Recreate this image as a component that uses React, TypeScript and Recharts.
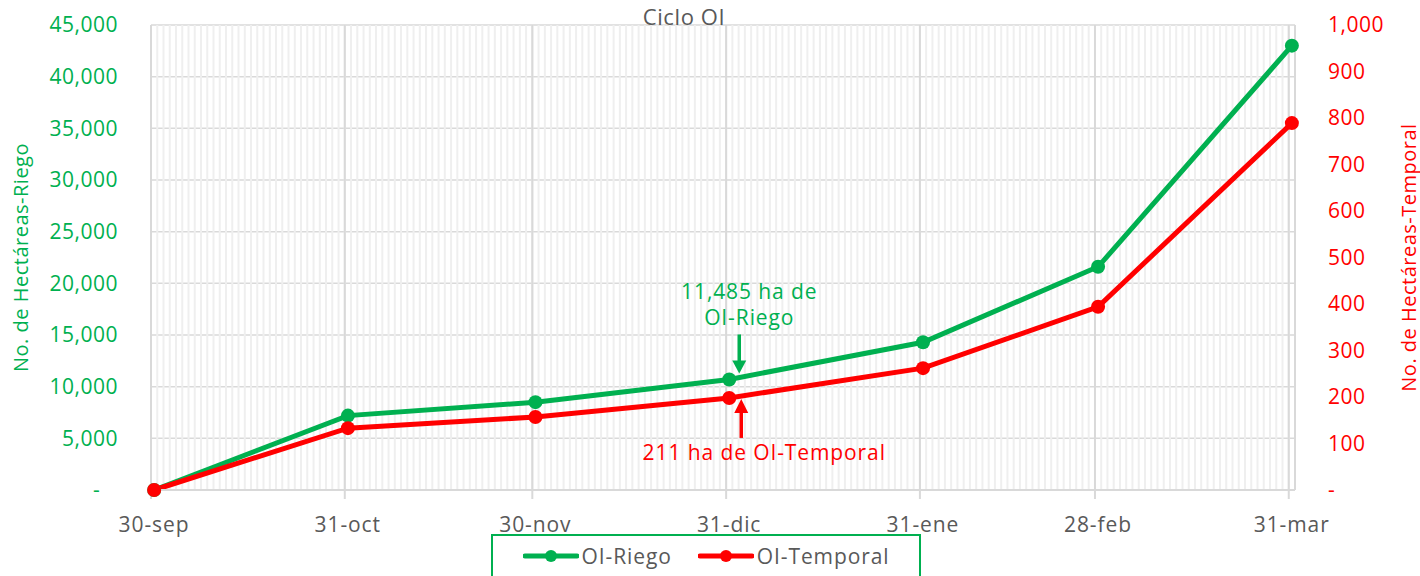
import { CartesianGrid, Legend, Line, LineChart, ReferenceDot, ReferenceLine, XAxis, YAxis } from "recharts";

// day index counted from 30-sep
const dayIndex = [0, 31, 61, 92, 123, 151, 182];
const dateLabels = ["30-sep", "31-oct", "30-nov", "31-dic", "31-ene", "28-feb", "31-mar"];
const riego = [0, 7200, 8500, 10700, 14300, 21600, 43000];
const temporal = [0, 133, 157, 198, 262, 394, 789];
const leftTicks = [0, 5000, 10000, 15000, 20000, 25000, 30000, 35000, 40000, 45000];
const rightTicks = [0, 100, 200, 300, 400, 500, 600, 700, 800, 900, 1000];
const riegoNote = ["11,485 ha de", "OI-Riego"];
const temporalNote = "211 ha de OI-Temporal";
const noteIndex = 3;

const GREEN = "#00b050";
const RED = "#ff0000";
const GRAY = "#595959";
const FONT = "'Open Sans', sans-serif";

const data = dayIndex.map((d, i) => ({ day: d, riego: riego[i], temporal: temporal[i] }));

// gridlines sit on day boundaries, points in the middle of the day
const monthTicks = dayIndex.map((d) => d - 0.5);
const dayLines = Array.from({ length: dayIndex[dayIndex.length - 1] + 2 }, (_, i) => i - 0.5);
const lastEdge = dayIndex[dayIndex.length - 1] + 0.5;

const fmtLeft = (v: number) => (v === 0 ? "-\u00a0\u00a0\u00a0" : v.toLocaleString("en-US"));
const fmtRight = (v: number) => (v === 0 ? "-" : v.toLocaleString("en-US"));
const fmtDate = (v: number) => dateLabels[monthTicks.indexOf(v)] ?? "";

const noteText = { fontSize: 21, fontFamily: FONT, letterSpacing: 0.9 };

const ArrowDownNote = (props: any) => {
    const { cx, cy } = props;
    const ax = cx + 10;
    return (
        <g>
            <text x={cx + 20} y={cy - 88} fill={GREEN} {...noteText} textAnchor="middle" dominantBaseline="central">{riegoNote[0]}</text>
            <text x={cx + 20} y={cy - 62} fill={GREEN} {...noteText} textAnchor="middle" dominantBaseline="central">{riegoNote[1]}</text>
            <line x1={ax} y1={cy - 45} x2={ax} y2={cy - 16} stroke={GREEN} strokeWidth={3.5} />
            <path d={`M${ax - 7},${cy - 19} L${ax + 7},${cy - 19} L${ax},${cy - 6} Z`} fill={GREEN} />
        </g>
    );
};

const ArrowUpNote = (props: any) => {
    const { cx, cy } = props;
    const ax = cx + 12;
    return (
        <g>
            <line x1={ax} y1={cy + 40} x2={ax} y2={cy + 12} stroke={RED} strokeWidth={3.5} />
            <path d={`M${ax - 7},${cy + 15} L${ax + 7},${cy + 15} L${ax},${cy + 1} Z`} fill={RED} />
            <text x={cx + 35} y={cy + 54} fill={RED} {...noteText} textAnchor="middle" dominantBaseline="central">{temporalNote}</text>
        </g>
    );
};

const LegendBox = (props: any) => {
    const { payload = [] } = props;
    return (
        <div style={{ border: `2px solid ${GREEN}`, height: 44, boxSizing: "border-box", display: "flex", justifyContent: "center", alignItems: "center", gap: 26, fontFamily: FONT, fontSize: 21, letterSpacing: 0.9, color: GRAY }}>
            {payload.map((p: any) => (
                <div key={p.value} style={{ display: "flex", alignItems: "center", gap: 3 }}>
                    <svg width={56} height={16}>
                        <line x1={2} y1={8} x2={54} y2={8} stroke={p.color} strokeWidth={5} strokeLinecap="round" />
                        <circle cx={28} cy={8} r={6} fill={p.color} />
                    </svg>
                    <span>{p.value}</span>
                </div>
            ))}
        </div>
    );
};

const App = () => {
    return (
        <div style={{ position: "relative", width: 1420, height: 576, overflow: "hidden", background: "#fff" }}>
            <style>{`body{margin:0}`}</style>
            <div style={{ position: "absolute", left: 684, top: 1, transform: "translateX(-50%)", fontFamily: FONT, fontSize: 22, letterSpacing: 0.6, color: GRAY, zIndex: 2 }}>
                Ciclo OI
            </div>
            <LineChart width={1420} height={576} data={data} margin={{ top: 25, right: 0, bottom: 0, left: 0 }}>
                {dayLines.map((x) => (
                    <ReferenceLine key={"d" + x} x={x} yAxisId="left" stroke="#efefef" strokeWidth={2} />
                ))}
                <CartesianGrid vertical={false} stroke="#d9d9d9" strokeWidth={1.5} yAxisId="left" />
                {monthTicks.map((x) => (
                    <ReferenceLine key={"m" + x} x={x} yAxisId="left" stroke="#d9d9d9" strokeWidth={2} />
                ))}
                <ReferenceLine x={lastEdge} yAxisId="left" stroke="#d9d9d9" strokeWidth={2} />
                <XAxis
                    dataKey="day"
                    type="number"
                    domain={[-0.5, lastEdge]}
                    ticks={monthTicks}
                    tickFormatter={fmtDate}
                    height={86}
                    stroke="#d9d9d9"
                    strokeWidth={2}
                    tickSize={9}
                    tickMargin={18}
                    tick={{ fill: GRAY, fontSize: 21, fontFamily: FONT, dx: 3, letterSpacing: 0.9 }}
                />
                <YAxis
                    yAxisId="left"
                    width={151}
                    domain={[0, 45000]}
                    ticks={leftTicks}
                    tickFormatter={fmtLeft}
                    axisLine={false}
                    tickLine={false}
                    tickSize={0}
                    tickMargin={33}
                    tick={{ fill: GREEN, fontSize: 21, fontFamily: FONT, letterSpacing: 0.5 }}
                    label={({ viewBox }: any) => (
                        <text
                            x={viewBox.x + 20}
                            y={viewBox.y + viewBox.height / 2}
                            transform={`rotate(-90, ${viewBox.x + 20}, ${viewBox.y + viewBox.height / 2})`}
                            textAnchor="middle"
                            dominantBaseline="central"
                            fill={GREEN}
                            fontSize={20}
                            letterSpacing={0.5}
                            fontFamily={FONT}
                        >
                            No. de Hectáreas-Riego
                        </text>
                    )}
                />
                <YAxis
                    yAxisId="right"
                    orientation="right"
                    width={125}
                    domain={[0, 1000]}
                    ticks={rightTicks}
                    tickFormatter={fmtRight}
                    axisLine={false}
                    tickLine={false}
                    tickSize={0}
                    tickMargin={33}
                    tick={{ fill: RED, fontSize: 21, fontFamily: FONT, letterSpacing: 0.5 }}
                    label={({ viewBox }: any) => (
                        <text
                            x={viewBox.x + 113}
                            y={viewBox.y + viewBox.height / 2}
                            transform={`rotate(-90, ${viewBox.x + 113}, ${viewBox.y + viewBox.height / 2})`}
                            textAnchor="middle"
                            dominantBaseline="central"
                            fill={RED}
                            fontSize={20}
                            letterSpacing={0.5}
                            fontFamily={FONT}
                        >
                            No. de Hectáreas-Temporal
                        </text>
                    )}
                />
                <Line
                    yAxisId="left"
                    dataKey="riego"
                    name="OI-Riego"
                    stroke={GREEN}
                    strokeWidth={5}
                    dot={{ r: 7, fill: GREEN, stroke: "none" }}
                    isAnimationActive={false}
                />
                <Line
                    yAxisId="right"
                    dataKey="temporal"
                    name="OI-Temporal"
                    stroke={RED}
                    strokeWidth={5}
                    dot={{ r: 7, fill: RED, stroke: "none" }}
                    isAnimationActive={false}
                />
                <ReferenceDot yAxisId="left" x={dayIndex[noteIndex]} y={riego[noteIndex]} shape={ArrowDownNote} />
                <ReferenceDot yAxisId="right" x={dayIndex[noteIndex]} y={temporal[noteIndex]} shape={ArrowUpNote} />
                <Legend
                    layout="horizontal"
                    verticalAlign="middle"
                    align="center"
                    content={LegendBox}
                    wrapperStyle={{ position: "absolute", left: 491, top: 534, width: 430, height: 44 }}
                />
            </LineChart>
        </div>
    );
};

export default App;
